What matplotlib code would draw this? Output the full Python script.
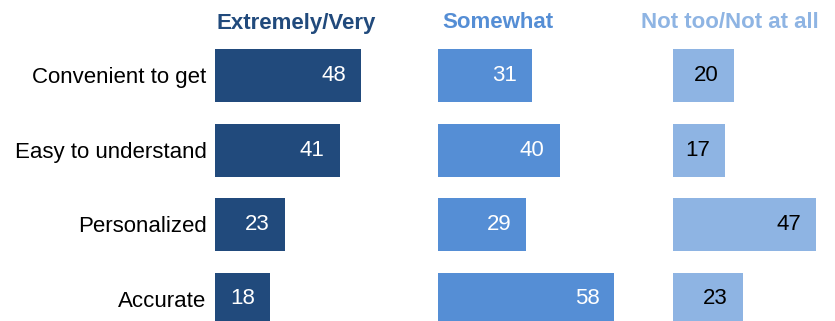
import matplotlib.pyplot as plt
import numpy as np

categories = ["Convenient to get", "Easy to understand", "Personalized", "Accurate"]
extremely_very = [48, 41, 23, 18]
somewhat = [31, 40, 29, 58]
not_too = [20, 17, 47, 23]
headers = ["Extremely/Very", "Somewhat", "Not too/Not at all"]

colors = ["#214a7c", "#558ed5", "#8eb4e3"]
text_colors = ["white", "white", "black"]

W, H = 835, 321
px_per_unit = 3.04
pitch = 74.5          # px between row centers
first_row = 75.5      # px from top to first row center
panel_left = [215, 438, 673]
header_off = [81, 60, 57]   # px from panel start to header center

fig = plt.figure(figsize=(W / 100, H / 100), dpi=100)

series = [extremely_very, somewhat, not_too]
y = np.arange(len(categories))
ytop = -first_row / pitch
ybot = (H - first_row) / pitch

for i, vals in enumerate(series):
    aw = 200
    ax = fig.add_axes([panel_left[i] / W, 0, aw / W, 1])
    ax.barh(y, vals, height=53 / pitch, color=colors[i])
    ax.set_xlim(0, aw / px_per_unit)
    ax.set_ylim(ybot, ytop)
    for yy, v in zip(y, vals):
        ax.text(v - 15 / px_per_unit, yy, str(v), ha="right", va="center",
                color=text_colors[i], fontsize=16, family="Liberation Sans")
    ax.text(header_off[i] / px_per_unit, (23 - first_row) / pitch, headers[i],
            ha="center", va="center", color=colors[i], fontsize=16,
            fontweight="bold", family="Liberation Sans", clip_on=False)
    for s in ax.spines.values():
        s.set_visible(False)
    ax.set_xticks([])
    if i == 0:
        ax.set_yticks(y)
        ax.set_yticklabels(categories, fontsize=16, family="Liberation Sans")
        ax.tick_params(axis="y", length=0, pad=6)
    else:
        ax.set_yticks([])

fig.savefig("out.png", dpi=100)
